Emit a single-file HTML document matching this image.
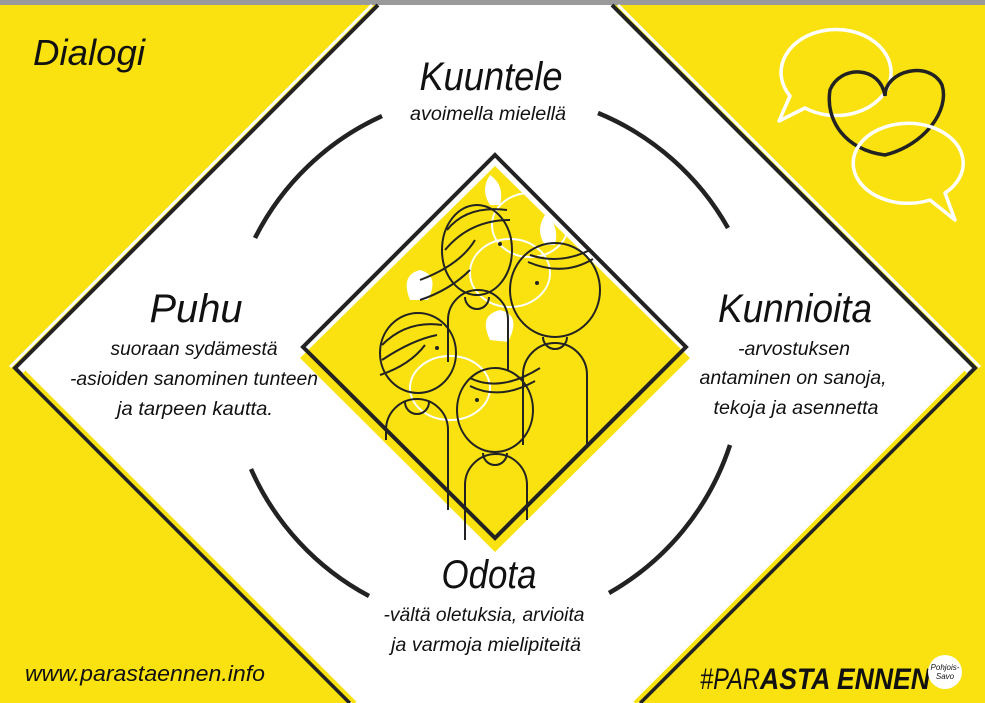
<!DOCTYPE html>
<html><head><meta charset="utf-8"><style>
html,body{margin:0;padding:0;background:#f9e20f;}
svg{display:block}
text{font-family:"Liberation Sans",sans-serif;font-style:italic;fill:#111;}
</style></head><body>
<svg width="985" height="703" viewBox="0 0 985 703" xmlns="http://www.w3.org/2000/svg">
<rect width="985" height="703" fill="#f9e20f"/>
<rect width="985" height="5" fill="#9a9a9a"/>
<!-- big white diamond -->
<polygon points="378,5 612,5 975,368 640,703 350,703 15,368" fill="#fff"/>
<polyline points="372,5 10,367" fill="none" stroke="#fff" stroke-width="3"/>
<polyline points="618,5 980,367" fill="none" stroke="#fff" stroke-width="3"/>
<polyline points="378,5 15,368 350,703" fill="none" stroke="#222" stroke-width="4"/>
<polyline points="612,5 975,368 640,703" fill="none" stroke="#222" stroke-width="4"/>
<polyline points="24,372 355,703" fill="none" stroke="#f9e20f" stroke-width="4"/>
<polyline points="966,372 635,703" fill="none" stroke="#f9e20f" stroke-width="4"/>
<!-- ring arcs -->
<g fill="none" stroke="#222" stroke-width="4.5">
<path d="M255,238 A265,265 0 0 1 382,116"/>
<path d="M598,113 A265,265 0 0 1 728,228"/>
<path d="M251,469 A265,265 0 0 0 369,596"/>
<path d="M730,445 A265,265 0 0 1 609,593"/>
</g>
<!-- inner diamond -->
<polygon points="495,166 690,358 495,552 300,358" fill="#f9e20f"/>
<polygon points="495,175 672,350 495,527 318,350" fill="#f9e20f"/>
<g fill="#fff">
<path d="M410,300 q-10,-25 10,-30 q20,5 8,30 z"/>
<path d="M490,340 q-12,-25 10,-30 q22,5 8,32 z"/>
<path d="M490,175 q-10,15 0,30 l10,0 q5,-20 -10,-30z"/>
<path d="M545,215 q-10,15 0,30 l10,0 q5,-20 -10,-30z"/>
</g>
<g fill="none" stroke="#fff" stroke-width="2">
<ellipse cx="530" cy="225" rx="38" ry="32"/>
<ellipse cx="510" cy="273" rx="40" ry="34"/>
<ellipse cx="450" cy="388" rx="40" ry="32"/>
</g>
<g fill="none" stroke="#222" stroke-width="2">
<ellipse cx="477" cy="250" rx="35" ry="45"/>
<path d="M448,362 V320 a30,30 0 0 1 60,0 V370"/>
<path d="M465,297 a12,12 0 0 0 24,0"/>
<path d="M447,230 q20,-25 60,-20 M445,250 q25,-30 65,-30 M420,280 q40,-15 55,-40 M420,300 q30,-10 50,-30"/>
<ellipse cx="555" cy="290" rx="45" ry="47"/>
<path d="M523,445 V375 a32,32 0 0 1 64,0 V445"/>
<path d="M543,337 a12,12 0 0 0 24,0"/>
<path d="M530,255 q30,10 60,-5 M528,262 q35,15 65,-3"/>
<ellipse cx="418" cy="353" rx="38" ry="40"/>
<path d="M386,440 V430 a31,31 0 0 1 62,0 V510"/>
<path d="M405,402 a12,12 0 0 0 24,0"/>
<path d="M382,345 q25,-25 60,-20 M382,360 q30,-20 55,-25 M380,375 q30,-10 45,-30"/>
<ellipse cx="495" cy="410" rx="38" ry="42"/>
<path d="M465,540 V485 a31,31 0 0 1 62,0 V520"/>
<path d="M483,453 a12,12 0 0 0 24,0"/>
<path d="M470,378 q30,15 70,-10 M470,386 q30,15 65,-5"/>
</g>
<g fill="#222">
<circle cx="500" cy="244" r="2"/><circle cx="537" cy="283" r="2"/><circle cx="437" cy="348" r="2"/><circle cx="477" cy="400" r="2"/>
</g>
<polygon points="495,155 686,347 495,538 303,347" fill="none" stroke="#222" stroke-width="4"/>
<!-- top-right decor -->
<g fill="none" stroke-width="3.5">
<path d="M790,96 A55,43 0 1 1 805,108 L779,121 Z" stroke="#fff" stroke-linejoin="round"/>
<path d="M885,96 C885,70 930,60 942,85 C950,110 925,145 885,155 C845,150 825,120 830,90 C840,65 880,65 885,96 Z" stroke="#222"/>
<path d="M945,193 A55,40 0 1 0 930,200 L955,220 Z" stroke="#fff" stroke-linejoin="round"/>
</g>
<text x="33" y="65" font-size="36" textLength="112" lengthAdjust="spacingAndGlyphs">Dialogi</text>
<g text-anchor="middle">
<text x="491" y="90" font-size="40" textLength="143" lengthAdjust="spacingAndGlyphs">Kuuntele</text>
<text x="488" y="120" font-size="19" textLength="156" lengthAdjust="spacingAndGlyphs">avoimella mielellä</text>
<text x="196" y="322" font-size="40" textLength="93" lengthAdjust="spacingAndGlyphs">Puhu</text>
<text x="194" y="355" font-size="19" textLength="167" lengthAdjust="spacingAndGlyphs">suoraan sydämestä</text>
<text x="194" y="385" font-size="19" textLength="248" lengthAdjust="spacingAndGlyphs">-asioiden sanominen tunteen</text>
<text x="195" y="415" font-size="19" textLength="156" lengthAdjust="spacingAndGlyphs">ja tarpeen kautta.</text>
<text x="795" y="322" font-size="40" textLength="154" lengthAdjust="spacingAndGlyphs">Kunnioita</text>
<text x="794" y="355" font-size="19" textLength="112" lengthAdjust="spacingAndGlyphs">-arvostuksen</text>
<text x="793" y="384" font-size="19" textLength="187" lengthAdjust="spacingAndGlyphs">antaminen on sanoja,</text>
<text x="796" y="414" font-size="19" textLength="165" lengthAdjust="spacingAndGlyphs">tekoja ja asennetta</text>
<text x="489" y="588" font-size="40" textLength="95" lengthAdjust="spacingAndGlyphs">Odota</text>
<text x="484" y="621" font-size="19" textLength="201" lengthAdjust="spacingAndGlyphs">-vältä oletuksia, arvioita</text>
<text x="486" y="651" font-size="19" textLength="190" lengthAdjust="spacingAndGlyphs">ja varmoja mielipiteitä</text>
</g>
<text x="25" y="681" font-size="22" textLength="240" lengthAdjust="spacingAndGlyphs">www.parastaennen.info</text>
<text x="700" y="689" font-size="30" textLength="60" lengthAdjust="spacingAndGlyphs">#PAR</text>
<text x="760" y="689" font-size="30" font-weight="bold" textLength="170" lengthAdjust="spacingAndGlyphs">ASTA ENNEN</text>
<circle cx="945" cy="672" r="17" fill="#fff"/>
<text x="945" y="670" font-size="8" text-anchor="middle">Pohjois-</text>
<text x="945" y="679" font-size="8" text-anchor="middle">Savo</text>
</svg>
</body></html>
